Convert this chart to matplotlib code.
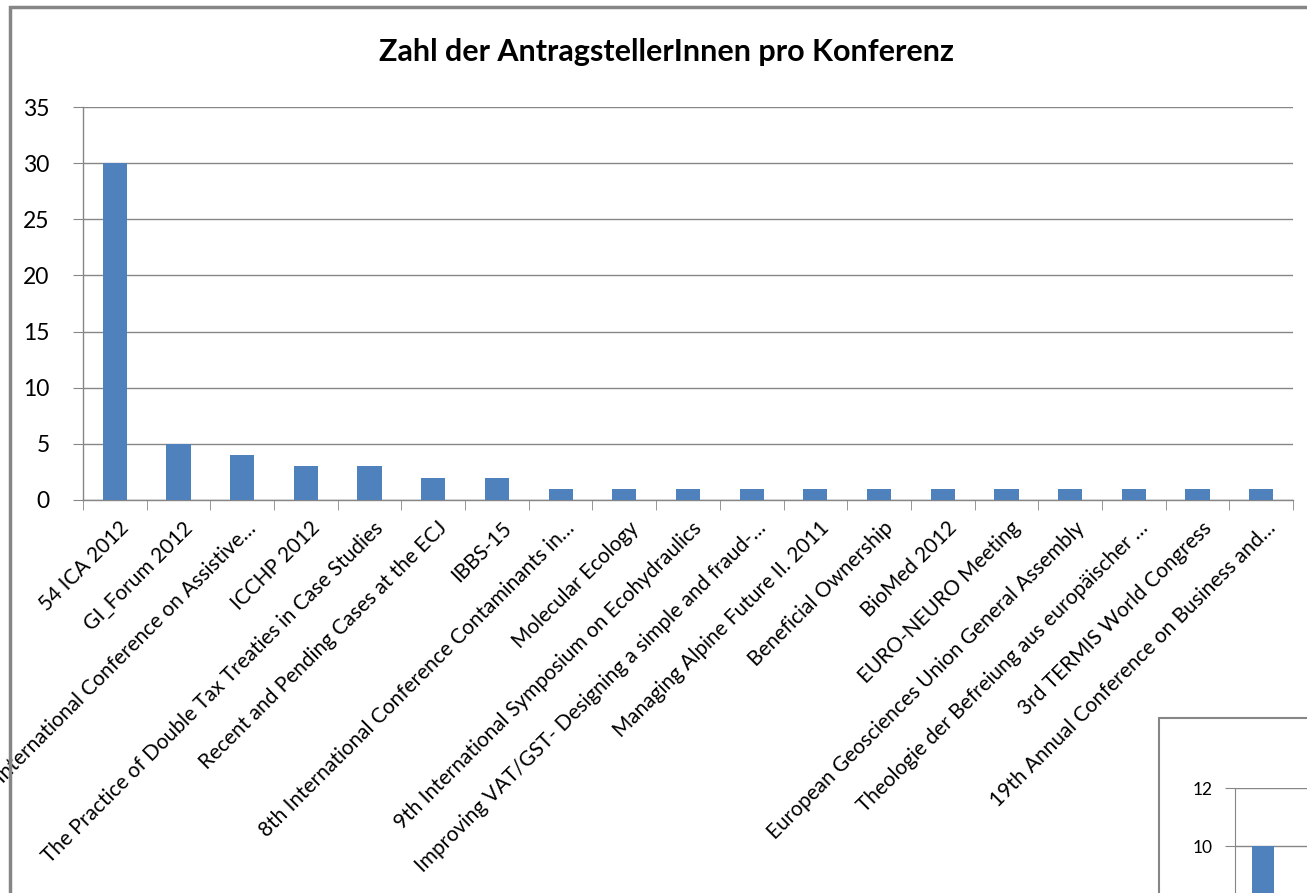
import numpy as np
import matplotlib
matplotlib.use("Agg")
import matplotlib.pyplot as plt
from matplotlib.patches import Rectangle
from matplotlib.transforms import ScaledTranslation

# --- data ---
konferenzen = [
    "54 ICA 2012",
    "GI_Forum 2012",
    "International Conference on Assistive\u2026",
    "ICCHP 2012",
    "The Practice of Double Tax Treaties in Case Studies",
    "Recent and Pending Cases at the ECJ",
    "IBBS-15",
    "8th International Conference Contaminants in\u2026",
    "Molecular Ecology",
    "9th International Symposium on Ecohydraulics",
    "Improving VAT/GST- Designing a simple and fraud-\u2026",
    "Managing Alpine Future II. 2011",
    "Beneficial Ownership",
    "BioMed 2012",
    "EURO-NEURO Meeting",
    "European Geosciences Union General Assembly",
    "Theologie der Befreiung aus europäischer \u2026",
    "3rd TERMIS World Congress",
    "19th Annual Conference on Business and\u2026",
]
antragsteller = [30, 5, 4, 3, 3, 2, 2, 1, 1, 1, 1, 1, 1, 1, 1, 1, 1, 1, 1]

# second (cut off) chart in the corner, only its top part is visible
inset_werte = [10]
inset_ticks = [10, 12]

titel = "Zahl der AntragstellerInnen pro Konferenz"
y_ticks = [0, 5, 10, 15, 20, 25, 30, 35]

BLUE = "#4F81BD"
GREY = "#868686"
W, H = 1307, 893

plt.rcParams["font.family"] = ["Lato", "DejaVu Sans"]

fig = plt.figure(figsize=(W / 100, H / 100), dpi=100)


def px(x0, y0, x1, y1):
    # pixel box (top-left origin) -> figure fraction rect
    return [x0 / W, 1 - y1 / H, (x1 - x0) / W, (y1 - y0) / H]


# outer chart frame (continues past the image edge)
fig.patches.append(Rectangle((10 / W, -0.1), 1.2, 1 - 7 / H + 0.1,
                             transform=fig.transFigure, fill=False,
                             edgecolor=GREY, lw=2.5, zorder=0))

fig.text(666 / W, 1 - 52 / H, titel, ha="center", va="center",
         fontsize=22, fontweight="bold")

ax = fig.add_axes(px(83, 107, 1293, 500))
x = np.arange(len(konferenzen))
ax.bar(x, antragsteller, width=0.38, color=BLUE, zorder=3)
ax.set_xlim(-0.5, len(konferenzen) - 0.5)
ax.set_ylim(0, 35)
ax.set_yticks(y_ticks)
ax.yaxis.grid(True, color=GREY, lw=1)
ax.set_axisbelow(True)
for s in ["top", "right"]:
    ax.spines[s].set_visible(False)
for s in ["left", "bottom"]:
    ax.spines[s].set_color(GREY)
    ax.spines[s].set_linewidth(1)
ax.tick_params(axis="y", length=7, color=GREY, labelsize=16.5, pad=17)

ax.set_xticks(x)
ax.set_xticks(np.arange(len(konferenzen) + 1) - 0.5, minor=True)
ax.tick_params(axis="x", which="major", length=0, pad=13)
ax.tick_params(axis="x", which="minor", length=7, color=GREY)
ax.set_xticklabels(konferenzen, rotation=45, ha="right", va="top",
                   rotation_mode="anchor", fontsize=15)
off = ScaledTranslation(4 / 100, 0, fig.dpi_scale_trans)
for lbl in ax.get_xticklabels():
    lbl.set_transform(lbl.get_transform() + off)

# cut-off second chart at the bottom right
fig.patches.append(Rectangle((1159 / W, -0.1), 0.5, (893 - 718) / H + 0.1,
                             transform=fig.transFigure, facecolor="white",
                             edgecolor=GREY, lw=1.5, zorder=1))
ax2 = fig.add_axes(px(1235, 788, 1235 + 3 * 56, 788 + 348))
ax2.set_zorder(2)
ax2.bar(np.arange(len(inset_werte)), inset_werte, width=0.39, color=BLUE, zorder=3)
ax2.set_xlim(-0.5, 2.5)
ax2.set_ylim(0, 12)
ax2.set_yticks(inset_ticks)
ax2.yaxis.grid(True, color=GREY, lw=1)
ax2.set_axisbelow(True)
ax2.set_xticks([])
for s in ["top", "right", "bottom"]:
    ax2.spines[s].set_visible(False)
ax2.spines["left"].set_color(GREY)
ax2.tick_params(axis="y", length=7, color=GREY, labelsize=12.5, pad=9)

fig.savefig("out.png", dpi=100)
